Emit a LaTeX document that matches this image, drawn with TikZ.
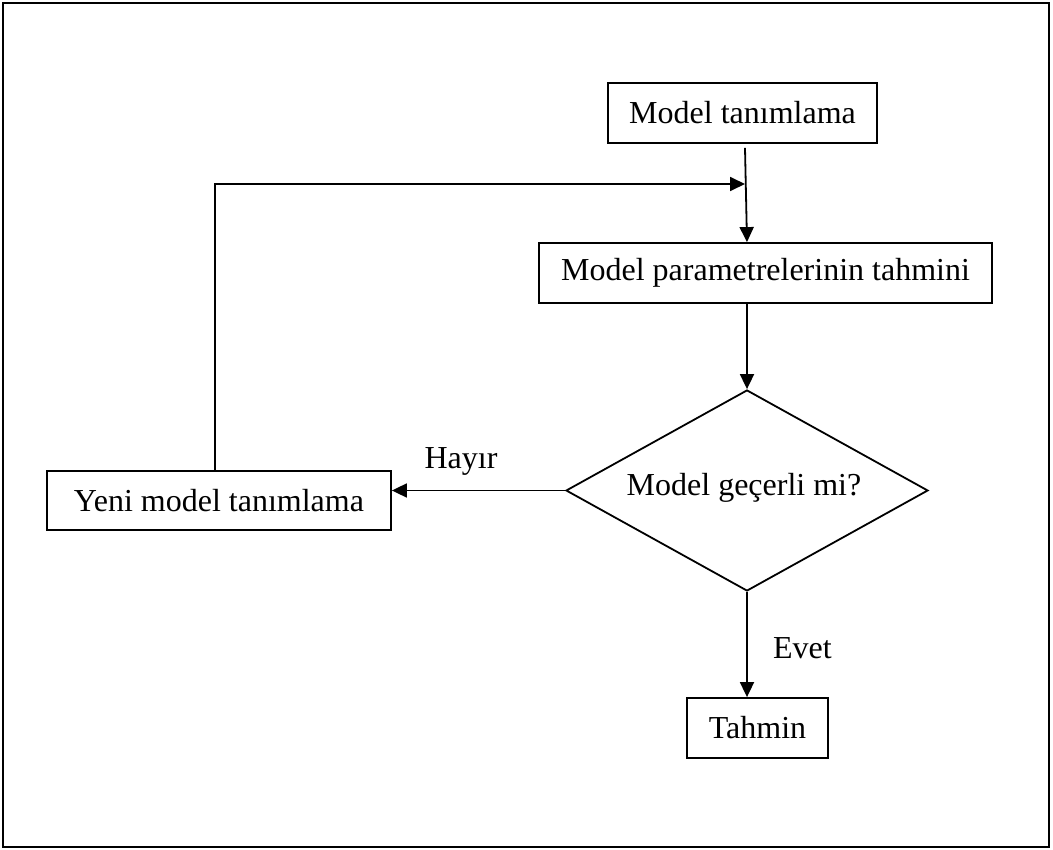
\documentclass[tikz,border=0pt]{standalone}
\usepackage{fontspec}
\setmainfont{Liberation Serif}
\usetikzlibrary{arrows.meta,shapes.geometric,calc}
\begin{document}
\begin{tikzpicture}[x=1pt,y=-1pt,
  txt/.style={font=\fontsize{32pt}{36pt}\selectfont},
  boxnode/.style={txt,draw,line width=1.8pt,inner sep=0pt,anchor=center},
  arr/.style={line width=1.8pt,-{Triangle[length=15pt,width=14pt]}},
  lbl/.style={txt,inner sep=0pt,anchor=center}]
\useasboundingbox (0,0) rectangle (1053,850);
\draw[line width=2pt] (3,3) rectangle (1049,847);
\node[boxnode,minimum width=269pt,minimum height=60pt] (b1) at (742.5,113) {Model tanımlama};
\node[boxnode,minimum width=453pt,minimum height=60pt] (b2) at (765.5,273) {Model parametrelerinin tahmini};
\node[boxnode,diamond,minimum width=362pt,minimum height=201pt] (dia) at (747,490.5) {};
\node[lbl] (diat) at (744,488) {Model geçerli mi?};
\node[boxnode,minimum width=344pt,minimum height=59pt] (yeni) at (219,500.5) {Yeni model tanımlama};
\node[boxnode,minimum width=141pt,minimum height=60pt] (tah) at (757.5,728) {Tahmin};
\coordinate (j) at (745,184);
\node[lbl] (hay) at (461,461) {Hayır};
\node[lbl] (evt) at (802.5,648) {Evet};
\draw[arr] ($(b1.south)+(2.5,4)$) -- (b2.north -| dia.north);
\draw[arr] ([xshift=-4pt]yeni.north) |- (j);
\draw[arr] (b2.south -| dia.north) -- (dia.north);
\draw[arr] (dia.west) -- (dia.west -| yeni.east);
\draw[arr] (dia.south) -- (dia.south |- tah.north);
\end{tikzpicture}
\end{document}
